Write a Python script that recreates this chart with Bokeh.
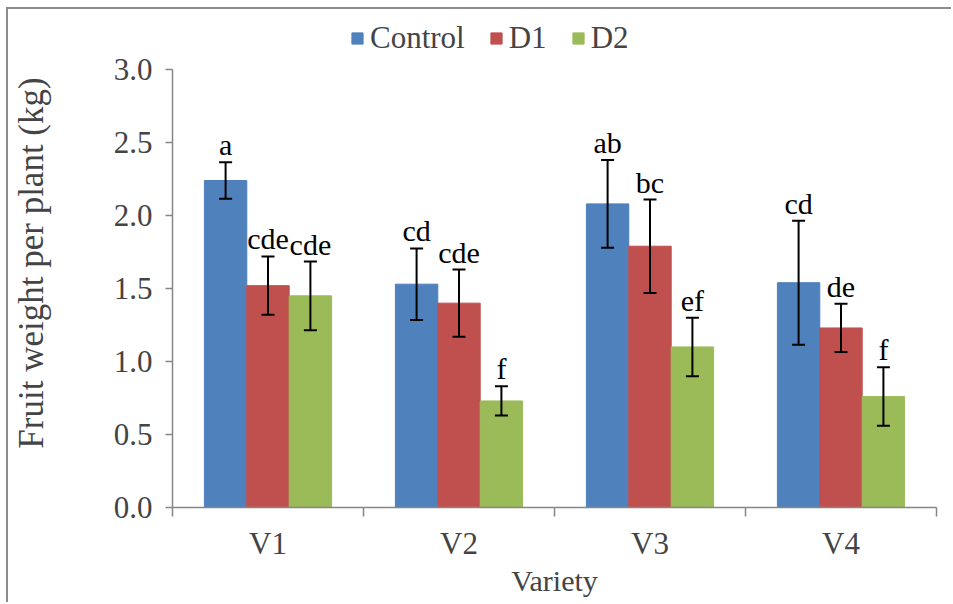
from bokeh.plotting import figure
from bokeh.models import (ColumnDataSource, Range1d, FixedTicker, NumeralTickFormatter,
                          Whisker, TeeHead, Legend, LegendItem)
from bokeh.core.properties import value
from bokeh.embed import file_html
from bokeh.resources import INLINE

# ---- data ----
varieties = ["V1", "V2", "V3", "V4"]
series = ["Control", "D1", "D2"]
control = [2.24, 1.53, 2.08, 1.54]
d1 = [1.52, 1.40, 1.79, 1.23]
d2 = [1.45, 0.73, 1.10, 0.76]
control_err = [0.125, 0.245, 0.30, 0.425]
d1_err = [0.20, 0.23, 0.32, 0.165]
d2_err = [0.235, 0.10, 0.20, 0.20]
control_sig = ["a", "cd", "ab", "cd"]
d1_sig = ["cde", "cde", "bc", "de"]
d2_sig = ["cde", "f", "ef", "f"]
y_ticks = [0.0, 0.5, 1.0, 1.5, 2.0, 2.5, 3.0]
y_axis_max = 3.0

colors = ["#4F81BD", "#C0504D", "#9BBB59"]
FONT = "Liberation Serif"
AXIS_COL = "#868686"

# frame extends above the axis top to leave room for the legend
p = figure(width=945, height=595, output_backend="svg", toolbar_location=None,
           x_range=Range1d(0, len(varieties)), y_range=Range1d(0, 3.35),
           min_border_left=162, min_border_right=17, min_border_top=9, min_border_bottom=97)
p.styles = {"border-left": "2px solid #8c8c8c", "border-top": "2px solid #8c8c8c",
            "margin-left": "6px", "margin-top": "7px"}
p.outline_line_color = None
p.xgrid.grid_line_color = None
p.ygrid.grid_line_color = None
p.background_fill_color = "white"
p.border_fill_color = "white"

bar_w = 0.222
offsets = [-bar_w, 0.0, bar_w]
vals = [control, d1, d2]
errs = [control_err, d1_err, d2_err]
sigs = [control_sig, d1_sig, d2_sig]

legend_items = []
for k in range(3):
    xs = [i + 0.5 + offsets[k] for i in range(len(varieties))]
    src = ColumnDataSource(dict(
        x=xs, top=vals[k],
        upper=[v + e for v, e in zip(vals[k], errs[k])],
        lower=[v - e for v, e in zip(vals[k], errs[k])],
        sig=sigs[k]))
    r = p.vbar(x="x", top="top", width=bar_w, bottom=0, source=src,
               fill_color=colors[k], line_color=colors[k], line_width=1)
    legend_items.append(LegendItem(label=series[k], renderers=[r]))
    w = Whisker(base="x", upper="upper", lower="lower", source=src,
                line_color="black", line_width=2, level="overlay",
                upper_head=TeeHead(size=13, line_color="black", line_width=2),
                lower_head=TeeHead(size=13, line_color="black", line_width=2))
    p.add_layout(w)
    p.text(x="x", y="upper", text="sig", source=src, text_align="center",
           text_baseline="bottom", y_offset=-1, text_font=value(FONT),
           text_font_size="30px", text_color="black")

# y axis
ya = p.yaxis[0]
ya.bounds = (0, y_axis_max)
ya.ticker = FixedTicker(ticks=y_ticks)
ya.formatter = NumeralTickFormatter(format="0.0")
ya.axis_label = "Fruit weight per plant (kg)"
ya.axis_label_text_font = FONT
ya.axis_label_text_font_style = "normal"
ya.axis_label_text_font_size = "35px"
ya.axis_label_standoff = 60
ya.major_label_text_font = FONT
ya.major_label_text_font_size = "31px"
ya.major_label_standoff = 13
ya.axis_line_color = AXIS_COL
ya.axis_line_width = 1.5
ya.major_tick_line_color = AXIS_COL
ya.major_tick_line_width = 1.5
ya.major_tick_out = 7
ya.major_tick_in = 0
ya.minor_tick_line_color = None

# x axis
xa = p.xaxis[0]
xa.ticker = FixedTicker(ticks=[i + 0.5 for i in range(len(varieties))],
                        minor_ticks=list(range(len(varieties) + 1)))
xa.major_label_overrides = {i + 0.5: v for i, v in enumerate(varieties)}
xa.axis_label = "Variety"
xa.axis_label_text_font = FONT
xa.axis_label_text_font_style = "normal"
xa.axis_label_text_font_size = "30px"
xa.axis_label_standoff = 0
xa.major_label_text_font = FONT
xa.major_label_text_font_size = "31px"
xa.major_label_standoff = 9
xa.axis_line_color = AXIS_COL
xa.axis_line_width = 1.5
xa.major_tick_line_color = None
xa.major_tick_out = 0
xa.major_tick_in = 0
xa.minor_tick_line_color = AXIS_COL
xa.minor_tick_line_width = 1.5
xa.minor_tick_out = 9
xa.minor_tick_in = 0

legend = Legend(items=legend_items, orientation="horizontal", location=(178, 451),
                label_text_font=FONT, label_text_font_size="31px",
                glyph_width=14, glyph_height=14, label_standoff=6, spacing=24,
                padding=0, margin=0, border_line_color=None, background_fill_alpha=0)
p.add_layout(legend, "center")

open("out.html", "w").write(file_html(p, INLINE))
